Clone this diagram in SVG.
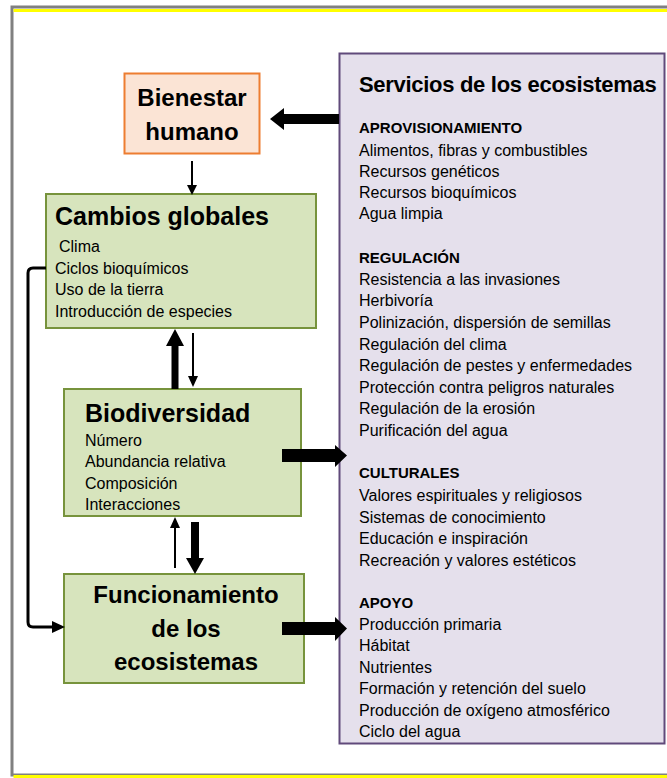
<svg xmlns="http://www.w3.org/2000/svg" width="667" height="778" viewBox="0 0 667 778">
<style>
text{font-family:"Liberation Sans",Arial,sans-serif;fill:#000}
.t{font-weight:bold;font-size:24px}
.i{font-size:16px}
.h{font-size:15px;font-weight:bold}
.st{font-size:22px;font-weight:bold;letter-spacing:-0.3px}
.green{fill:#d7e4bd;stroke:#77933c;stroke-width:2}
.thin{stroke:#000;stroke-width:2;fill:none}
</style>
<rect x="0" y="0" width="667" height="778" fill="#fff"/>
<g id="frame">
<rect x="12" y="7" width="660" height="768" fill="#fff" stroke="#808080" stroke-width="3"/>
<rect x="13.5" y="9" width="654" height="3" fill="#ffff00"/>
<rect x="13.5" y="775" width="654" height="3" fill="#ffff00"/>
</g>
<g id="servicios">
<rect x="339.5" y="53.5" width="325" height="690" fill="#e5e0ec" stroke="#604a7b" stroke-width="2"/>
<text class="st" x="359" y="92">Servicios de los ecosistemas</text>
<text class="h" x="359" y="133">APROVISIONAMIENTO</text>
<text class="i" x="359" y="156">Alimentos, fibras y combustibles</text>
<text class="i" x="359" y="177">Recursos genéticos</text>
<text class="i" x="359" y="198">Recursos bioquímicos</text>
<text class="i" x="359" y="219">Agua limpia</text>
<text class="h" x="359" y="263">REGULACIÓN</text>
<text class="i" x="359" y="285">Resistencia a las invasiones</text>
<text class="i" x="359" y="306">Herbivoría</text>
<text class="i" x="359" y="328">Polinización, dispersión de semillas</text>
<text class="i" x="359" y="350">Regulación del clima</text>
<text class="i" x="359" y="371">Regulación de pestes y enfermedades</text>
<text class="i" x="359" y="393">Protección contra peligros naturales</text>
<text class="i" x="359" y="414">Regulación de la erosión</text>
<text class="i" x="359" y="436">Purificación del agua</text>
<text class="h" x="359" y="478">CULTURALES</text>
<text class="i" x="359" y="501">Valores espirituales y religiosos</text>
<text class="i" x="359" y="523">Sistemas de conocimiento</text>
<text class="i" x="359" y="544">Educación e inspiración</text>
<text class="i" x="359" y="566">Recreación y valores estéticos</text>
<text class="h" x="359" y="608">APOYO</text>
<text class="i" x="359" y="630">Producción primaria</text>
<text class="i" x="359" y="651">Hábitat</text>
<text class="i" x="359" y="673">Nutrientes</text>
<text class="i" x="359" y="694">Formación y retención del suelo</text>
<text class="i" x="359" y="716">Producción de oxígeno atmosférico</text>
<text class="i" x="359" y="737">Ciclo del agua</text>
</g>
<g id="bienestar">
<rect x="124.5" y="73.5" width="135" height="80" fill="#fbe4d5" stroke="#ed7d31" stroke-width="2"/>
<text class="t" x="192" y="106" text-anchor="middle" font-size="25">Bienestar</text>
<text class="t" x="192" y="140" text-anchor="middle" font-size="25">humano</text>
</g>
<g id="cambios">
<rect class="green" x="46" y="194" width="270" height="134"/>
<text class="t" x="55" y="225" style="font-size:25px">Cambios globales</text>
<text class="i" x="59" y="252">Clima</text>
<text class="i" x="55" y="274">Ciclos bioquímicos</text>
<text class="i" x="55" y="295">Uso de la tierra</text>
<text class="i" x="55" y="317">Introducción de especies</text>
</g>
<g id="biodiversidad">
<rect class="green" x="64" y="389" width="237" height="127"/>
<text class="t" x="85" y="422" style="font-size:25px">Biodiversidad</text>
<text class="i" x="85" y="446">Número</text>
<text class="i" x="85" y="467">Abundancia relativa</text>
<text class="i" x="85" y="489">Composición</text>
<text class="i" x="85" y="510">Interacciones</text>
</g>
<g id="funcionamiento">
<rect class="green" x="64" y="574" width="240" height="109"/>
<text class="t" x="186" y="603" text-anchor="middle">Funcionamiento</text>
<text class="t" x="186" y="637" text-anchor="middle">de los</text>
<text class="t" x="186" y="670" text-anchor="middle">ecosistemas</text>
</g>
<g id="connectors">
<polygon points="339,114 284,114 284,108 270,119 284,130 284,124 339,124"/>
<line class="thin" x1="192" y1="161" x2="192" y2="186"/>
<polygon points="187,185 197,185 192,195"/>
<polygon points="171.5,389 171.5,346 166,346 175,329 184,346 178.5,346 178.5,389"/>
<line class="thin" x1="193" y1="333" x2="193" y2="377"/>
<polygon points="188,376 198,376 193,387"/>
<line class="thin" x1="175" y1="568" x2="175" y2="527"/>
<polygon points="170,528 180,528 175,517"/>
<polygon points="191,522 199,522 199,558 204,558 195,574 186,558 191,558"/>
<polygon points="282,449 335,449 335,445 347,455.5 335,467 335,462 282,462"/>
<polygon points="282,622 335,622 335,617 347,628.5 335,641 335,635 282,635"/>
<path d="M46,268 L33,268 Q28,268 28,273 L28,622 Q28,627 33,627 L54,627" fill="none" stroke="#000" stroke-width="3"/>
<polygon points="52,621 65,627 52,633"/>
</g>
</svg>
